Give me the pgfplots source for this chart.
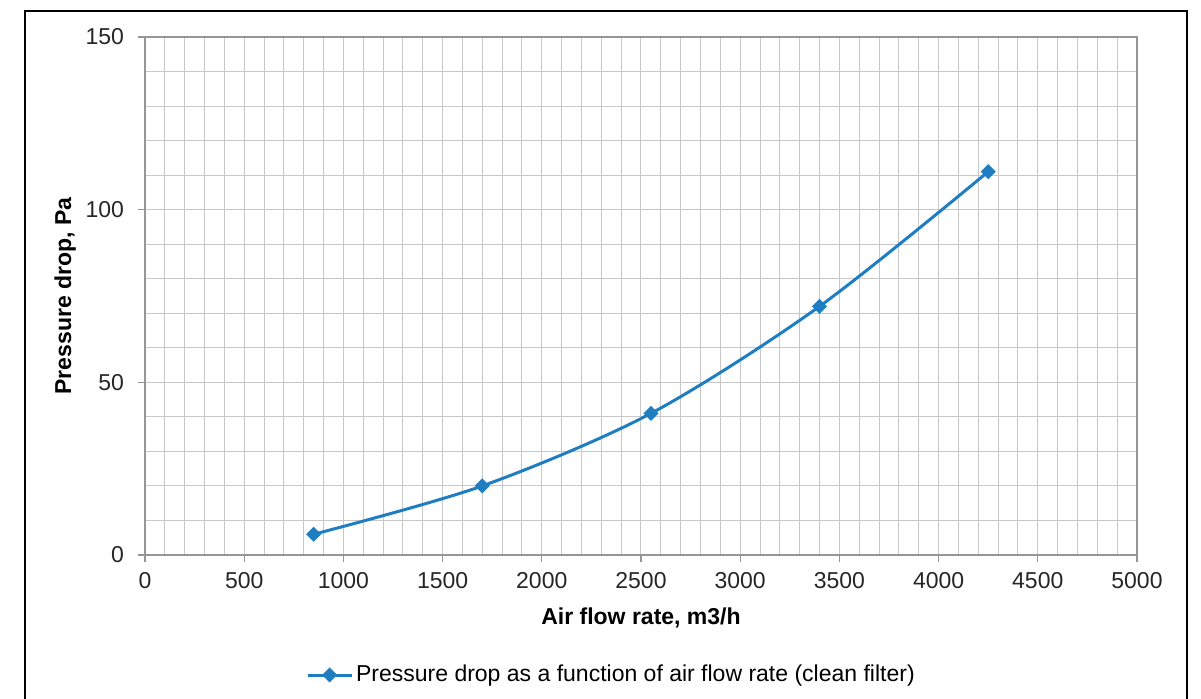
\documentclass[border=0pt]{standalone}
\usepackage{fontspec}
\setmainfont{Liberation Sans}
\usepackage{pgfplots}
\pgfplotsset{compat=1.18}

\definecolor{serblue}{RGB}{31,125,193}
\definecolor{gridgray}{RGB}{200,200,200}
\definecolor{axgray}{RGB}{150,150,150}

\begin{document}
\begin{tikzpicture}[x=1pt,y=1pt]
% page = 1201x699 px at 0.5pt per px, axis origin at (145,555) px
\useasboundingbox (-72.5,-72) rectangle (528,277.5);
\draw[black, line width=1pt] (-60,-90) -- (-60,272) -- (521,272) -- (521,-90);
\begin{axis}[
  at={(0,0)}, anchor=origin,
  scale only axis, width=496pt, height=259pt,
  xmin=0, xmax=5000, ymin=0, ymax=150,
  xtick={0,500,...,5000}, ytick={0,50,100,150},
  minor x tick num=4, minor y tick num=4,
  grid=both,
  major grid style={gridgray, line width=0.5pt},
  minor grid style={gridgray, line width=0.5pt},
  axis line style={axgray, line width=0.6pt},
  tick style={axgray, line width=0.6pt},
  major tick length=3.5pt, minor tick length=0pt,
  tick align=outside,
  xtick pos=bottom, ytick pos=left,
  ticklabel style={font=\fontsize{11.5}{13}\selectfont, text=black!85},
  yticklabel style={xshift=-3.5pt},
  xticklabel style={yshift=-1.5pt},
  /pgf/number format/assume math mode=true,
  /pgf/number format/1000 sep={},
  xlabel={\bfseries Air flow rate, m3/h},
  ylabel={\bfseries Pressure drop, Pa},
  label style={font=\fontsize{11.5}{13}\selectfont},
  xlabel style={yshift=-3pt},
  ylabel style={yshift=-2pt},
  legend style={at={(0.4707,-0.2318)}, anchor=center, draw=none,
    font=\fontsize{11.5}{13}\selectfont, inner sep=0pt,
    nodes={inner sep=1.5pt}},
  legend image code/.code={
    \draw[mark repeat=2, mark phase=2, #1]
      plot coordinates {(0pt,0pt) (11pt,0pt) (22pt,0pt)};},
  legend cell align=left,
]
\addplot[serblue, line width=1.5pt, smooth, tension=0.5,
  mark=square*, mark size=2.4pt,
  mark options={fill=serblue, draw=serblue, rotate=45, line width=0.5pt}]
  coordinates {(850,6) (1700,20) (2550,41) (3400,72) (4250,111)};
\addlegendentry{Pressure drop as a function of air flow rate (clean filter)}
\end{axis}
\end{tikzpicture}
\end{document}
